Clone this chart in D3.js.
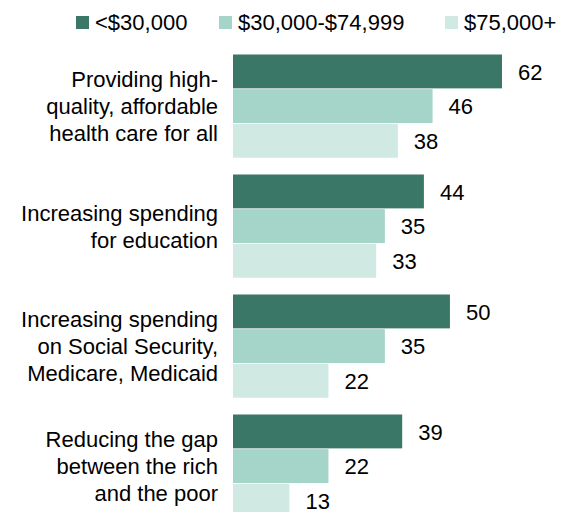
<!DOCTYPE html>
<html><head><meta charset="utf-8">
<script src="https://cdn.jsdelivr.net/npm/d3@7"></script>
<style>body{margin:0;background:#fff}svg text{font-family:"Liberation Sans",Arial,sans-serif;fill:#000}</style>
</head><body><svg id="c" width="576" height="512"></svg>
<script>
const categories = [
  ["Providing high-","quality, affordable","health care for all"],
  ["Increasing spending","for education"],
  ["Increasing spending","on Social Security,","Medicare, Medicaid"],
  ["Reducing the gap","between the rich","and the poor"]
];
const seriesNames = ["<$30,000","$30,000-$74,999","$75,000+"];
const low = [62,44,50,39];
const mid = [46,35,35,22];
const high = [38,33,22,13];
const colors = ["#3b7767","#a5d4c8","#d1e9e3"];

const svg = d3.select("#c");
const series = [low, mid, high];
const x = d3.scaleLinear().domain([0,62]).range([233,502]);
const y0 = d3.scaleBand().domain(d3.range(categories.length)).range([54.5,518.5]).paddingInner(16/120).paddingOuter(0);
const y1 = d3.scaleBand().domain(d3.range(3)).range([0,y0.bandwidth()]);
const fs = 22;

const g = svg.selectAll("g.grp").data(categories).join("g").attr("class","grp")
  .attr("transform",(d,i)=>`translate(0,${y0(i)})`);
g.each(function(cat,i){
  const gg = d3.select(this);
  series.forEach((s,k)=>{
    gg.append("rect").attr("x",x(0)).attr("y",y1(k)).attr("width",x(s[i])-x(0))
      .attr("height",y1.bandwidth()-0.8).attr("fill",colors[k]);
    gg.append("text").attr("x",x(s[i])+16).attr("y",y1(k)+y1.bandwidth()/2)
      .attr("dy","0.35em").attr("font-size",fs).text(s[i]);
  });
  const n = cat.length, lh = 27, c = y0.bandwidth()/2;
  cat.forEach((line,j)=>{
    gg.append("text").attr("x",218).attr("y",c+(j-(n-1)/2)*lh).attr("dy","0.35em")
      .attr("text-anchor","end").attr("font-size",fs).text(line);
  });
});

const legX = [76,219,445];
const lg = svg.selectAll("g.leg").data(seriesNames).join("g").attr("class","leg")
  .attr("transform",(d,i)=>`translate(${legX[i]},16)`);
lg.append("rect").attr("width",13).attr("height",13).attr("fill",(d,i)=>colors[i]);
lg.append("text").attr("x",19).attr("y",6.5).attr("dy","0.35em").attr("font-size",fs).text(d=>d);
</script></body></html>
